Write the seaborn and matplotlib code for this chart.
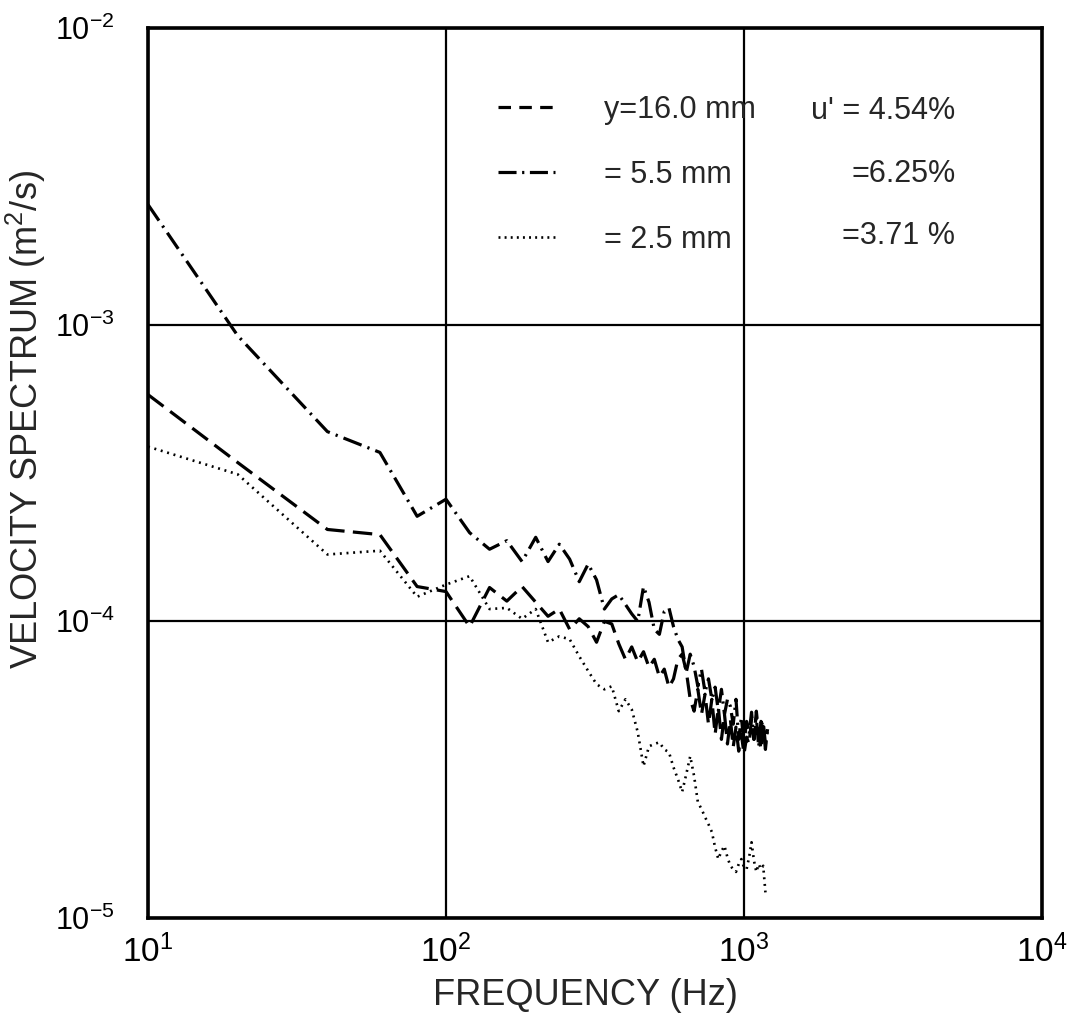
import numpy as np
import pandas as pd
import matplotlib
matplotlib.use("Agg")
import matplotlib.pyplot as plt
import seaborn as sns
from matplotlib.lines import Line2D
from matplotlib.ticker import NullLocator

# ---------------- data ----------------
freq = [10, 20, 40, 60, 80, 100, 120, 140, 160, 180, 200, 220, 240, 260, 280,
        300, 320, 340, 360, 380, 400, 420, 440, 460, 480, 500, 520, 540, 560,
        580, 600, 620, 640, 660, 680, 700, 720, 740, 760, 780, 800, 820, 840,
        860, 880, 900, 920, 940, 960, 980, 1000, 1020, 1040, 1060, 1080, 1100,
        1120, 1140, 1160, 1180, 1200]

# y = 16.0 mm (dashed)
spec_16mm = [5.81e-4, 3.43e-4, 2.04e-4, 1.96e-4, 1.31e-4, 1.26e-4, 9.6e-5,
             1.30e-4, 1.17e-4, 1.31e-4, 1.16e-4, 1.04e-4, 1.10e-4, 9.4e-5,
             1.02e-4, 9.6e-5, 8.5e-5, 1.0e-4, 9.8e-5, 8.4e-5, 7.45e-5, 8.2e-5,
             7.3e-5, 7.9e-5, 7.0e-5, 7.45e-5, 6.5e-5, 6.9e-5, 6.0e-5, 6.4e-5,
             7.45e-5, 7.75e-5, 6.8e-5, 5.46e-5, 4.98e-5, 5.9e-5, 4.86e-5,
             5.68e-5, 4.5e-5, 5.46e-5, 4.16e-5, 5.13e-5, 4.0e-5, 4.86e-5,
             3.86e-5, 4.68e-5, 3.77e-5, 4.4e-5, 3.65e-5, 4.16e-5, 3.57e-5,
             4.07e-5, 3.86e-5, 4.68e-5, 4.0e-5, 4.98e-5, 4.16e-5, 3.7e-5,
             4.6e-5, 3.86e-5, 4.33e-5]

# y = 5.5 mm (dash-dot)
spec_5p5mm = [2.54e-3, 9.18e-4, 4.36e-4, 3.71e-4, 2.26e-4, 2.58e-4, 1.99e-4,
              1.75e-4, 1.87e-4, 1.59e-4, 1.92e-4, 1.59e-4, 1.82e-4, 1.62e-4,
              1.36e-4, 1.56e-4, 1.38e-4, 1.10e-4, 1.19e-4, 1.23e-4, 1.14e-4,
              1.06e-4, 1.0e-4, 1.31e-4, 1.16e-4, 9.4e-5, 9.04e-5, 1.08e-4,
              1.11e-4, 9.6e-5, 8.7e-5, 8.2e-5, 6.73e-5, 7.75e-5, 7.05e-5,
              6.04e-5, 6.9e-5, 5.77e-5, 6.4e-5, 5.46e-5, 6.0e-5, 4.98e-5,
              5.9e-5, 4.86e-5, 5.46e-5, 5.17e-5, 4.5e-5, 5.46e-5, 4.0e-5,
              4.75e-5, 3.86e-5, 4.6e-5, 4.16e-5, 4.94e-5, 4.0e-5, 4.75e-5,
              3.77e-5, 4.6e-5, 4.43e-5, 3.7e-5, 4.4e-5]

# y = 2.5 mm (dotted), measured up to 1180 Hz
spec_2p5mm = [3.88e-4, 3.13e-4, 1.68e-4, 1.73e-4, 1.21e-4, 1.33e-4, 1.42e-4,
              1.10e-4, 1.11e-4, 1.02e-4, 1.10e-4, 8.5e-5, 8.9e-5, 8.7e-5,
              7.62e-5, 6.8e-5, 6.14e-5, 5.9e-5, 6.04e-5, 4.98e-5, 5.46e-5,
              5.05e-5, 4.23e-5, 3.25e-5, 3.79e-5, 3.86e-5, 3.91e-5, 3.7e-5,
              3.62e-5, 3.22e-5, 2.94e-5, 2.66e-5, 3.05e-5, 3.51e-5, 3.01e-5,
              2.46e-5, 2.33e-5, 2.19e-5, 2.07e-5, 1.95e-5, 1.73e-5, 1.58e-5,
              1.68e-5, 1.75e-5, 1.60e-5, 1.50e-5, 1.46e-5, 1.43e-5, 1.52e-5,
              1.58e-5, 1.48e-5, 1.46e-5, 1.60e-5, 1.80e-5, 1.56e-5, 1.43e-5,
              1.52e-5, 1.46e-5, 1.50e-5, 1.22e-5]

legend_left = ["y=16.0 mm", "= 5.5 mm", "= 2.5 mm"]
legend_right = ["u' = 4.54%", "=6.25%", "=3.71 %"]

x_ticks = [1e1, 1e2, 1e3, 1e4]
y_ticks = [1e-5, 1e-4, 1e-3, 1e-2]

# ---------------- style ----------------
sns.set_style("white")
plt.rcParams["font.family"] = ["Liberation Sans", "DejaVu Sans"]
plt.rcParams["mathtext.fontset"] = "custom"
plt.rcParams["mathtext.rm"] = "Liberation Sans"
plt.rcParams["mathtext.it"] = "Liberation Sans:italic"
plt.rcParams["mathtext.bf"] = "Liberation Sans:bold"
plt.rcParams["mathtext.default"] = "regular"
plt.rcParams["lines.scale_dashes"] = False

fig = plt.figure(figsize=(10.8, 10.23), dpi=100)
ax = fig.add_axes([148 / 1080, 105 / 1023, 894 / 1080, 890 / 1023])
ax.set_xscale("log")
ax.set_yscale("log")

styles = {
    "16": dict(linestyle=(0, (14, 6)), linewidth=2.3),
    "5.5": dict(linestyle=(0, (14, 4.5, 1.6, 4.5)), linewidth=2.3),
    "2.5": dict(linestyle=(0, (1.4, 3.4)), linewidth=1.9),
}

sns.lineplot(x=freq, y=spec_16mm, ax=ax, color="black", estimator=None,
             sort=False, legend=False, **styles["16"])
sns.lineplot(x=freq, y=spec_5p5mm, ax=ax, color="black", estimator=None,
             sort=False, legend=False, **styles["5.5"])
sns.lineplot(x=freq[:len(spec_2p5mm)], y=spec_2p5mm, ax=ax, color="black",
             estimator=None, sort=False, legend=False, **styles["2.5"])

ax.set_xlim(1e1, 1e4)
ax.set_ylim(1e-5, 1e-2)
ax.set_xticks(x_ticks)
ax.set_yticks(y_ticks)
ax.xaxis.set_minor_locator(NullLocator())
ax.yaxis.set_minor_locator(NullLocator())
ax.grid(True, which="major", color="black", linewidth=1.6)
ax.tick_params(axis="both", which="both", length=0, colors="black")
ax.tick_params(axis="x", pad=12, labelsize=24)
ax.tick_params(axis="y", pad=24, labelsize=22)
for sp in ax.spines.values():
    sp.set_visible(True)
    sp.set_color("black")
    sp.set_linewidth(2.6)

ax.set_xlabel("FREQUENCY (Hz)", fontsize=26)
ax.set_ylabel("VELOCITY SPECTRUM (m$^2$/s)", fontsize=26)
ax.xaxis.label.set_va("center")
ax.yaxis.label.set_va("center")
ax.xaxis.set_label_coords(0.489, -0.087)
ax.yaxis.set_label_coords(-0.137, 0.56)

# legend: line keys + first text column
handles = [Line2D([], [], color="black", linestyle=(0, (9, 6)), linewidth=2.3),
           Line2D([], [], color="black", linestyle=(0, (13, 4, 1.6, 4)), linewidth=2.3),
           Line2D([], [], color="black", linestyle=(0, (1.4, 3.0)), linewidth=1.9)]
leg = ax.legend(handles, legend_left, loc="upper left", bbox_to_anchor=(0.392, 0.925),
                frameon=False, fontsize=22, handlelength=1.85, handletextpad=1.6,
                labelspacing=1.15, borderpad=0, borderaxespad=0)

row_y = [0.907, 0.836, 0.766]
for lab, yy in zip(legend_right, row_y):
    ax.text(0.903, yy, lab, ha="right", va="center", fontsize=22,
            transform=ax.transAxes)

fig.savefig("out.png", dpi=100, facecolor="white")
